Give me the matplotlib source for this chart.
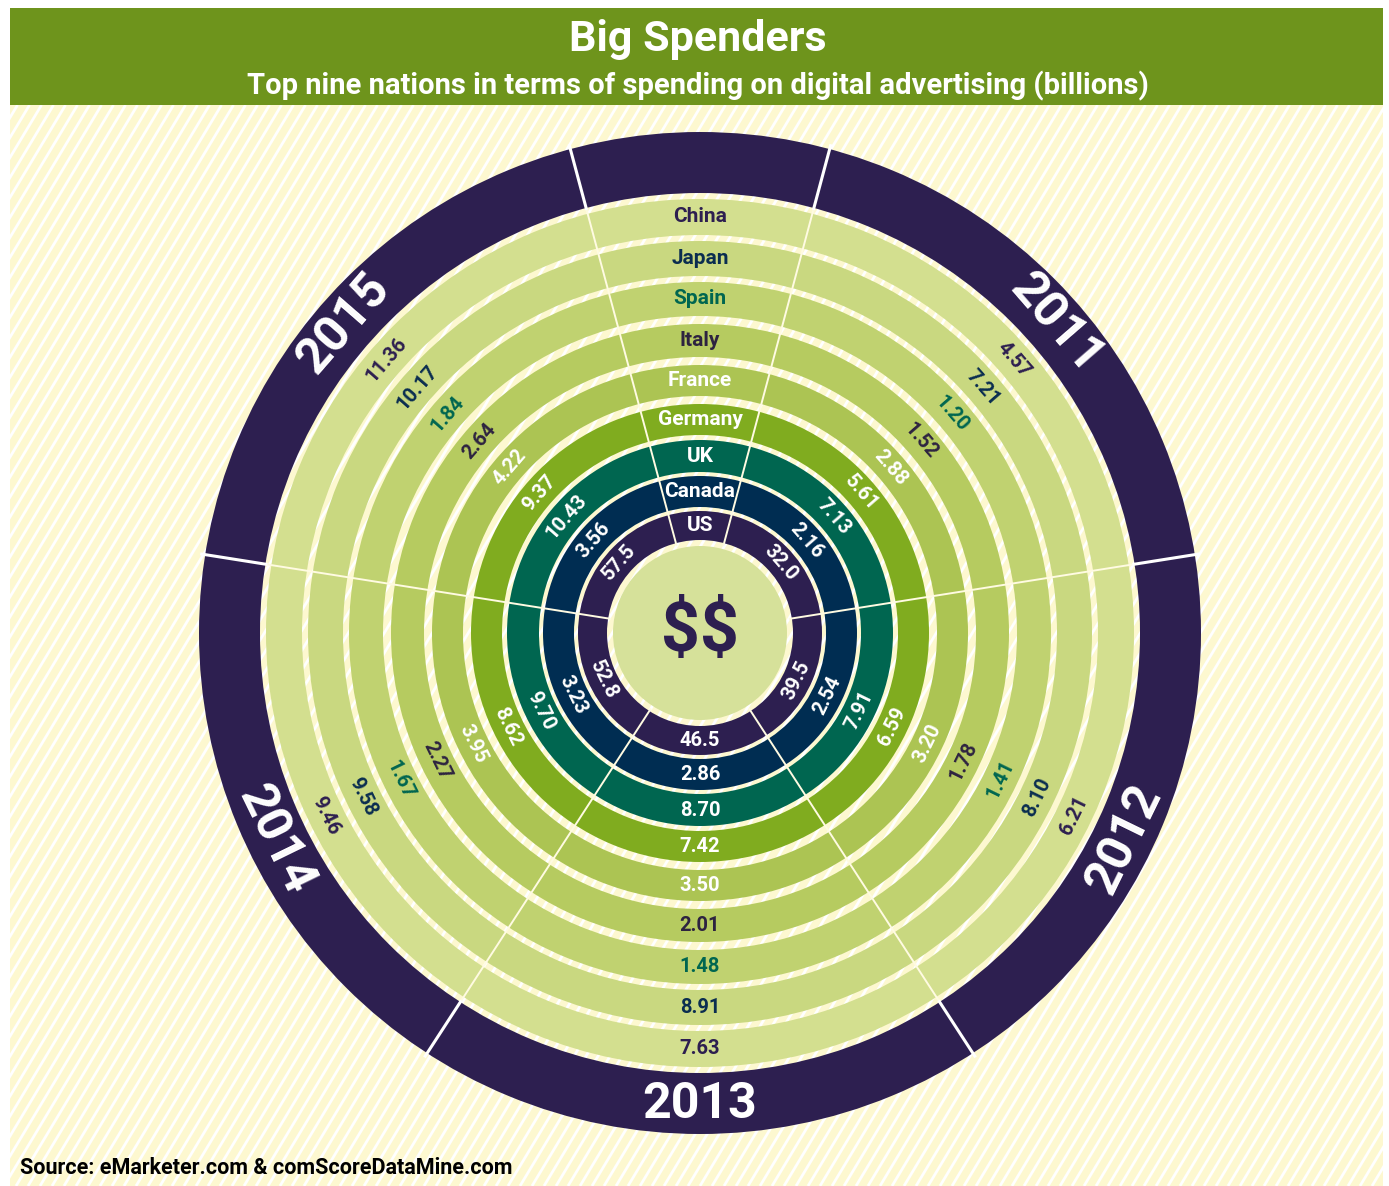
import numpy as np
import matplotlib
matplotlib.use("Agg")
import matplotlib.pyplot as plt
from matplotlib.patches import Rectangle
from matplotlib.collections import LineCollection

plt.rcParams['font.family'] = ['Roboto', 'DejaVu Sans']

# data
countries = ['China', 'Japan', 'Spain', 'Italy', 'France', 'Germany', 'UK', 'Canada', 'US']
years = ['2011', '2012', '2013', '2014', '2015']
spend_2011 = [4.57, 7.21, 1.20, 1.52, 2.88, 5.61, 7.13, 2.16, 32.0]
spend_2012 = [6.21, 8.10, 1.41, 1.78, 3.20, 6.59, 7.91, 2.54, 39.5]
spend_2013 = [7.63, 8.91, 1.48, 2.01, 3.50, 7.42, 8.70, 2.86, 46.5]
spend_2014 = [9.46, 9.58, 1.67, 2.27, 3.95, 8.62, 9.70, 3.23, 52.8]
spend_2015 = [11.36, 10.17, 1.84, 2.64, 4.22, 9.37, 10.43, 3.56, 57.5]
labels_2011 = ['4.57', '7.21', '1.20', '1.52', '2.88', '5.61', '7.13', '2.16', '32.0']
labels_2012 = ['6.21', '8.10', '1.41', '1.78', '3.20', '6.59', '7.91', '2.54', '39.5']
labels_2013 = ['7.63', '8.91', '1.48', '2.01', '3.50', '7.42', '8.70', '2.86', '46.5']
labels_2014 = ['9.46', '9.58', '1.67', '2.27', '3.95', '8.62', '9.70', '3.23', '52.8']
labels_2015 = ['11.36', '10.17', '1.84', '2.64', '4.22', '9.37', '10.43', '3.56', '57.5']
all_labels = [labels_2011, labels_2012, labels_2013, labels_2014, labels_2015]

# ring layout (outer -> inner), pixel radii
ring_in = [398, 357, 317, 276, 237, 198, 161, 126, 93]
ring_out = [434, 392, 351, 309, 268, 229, 193, 157, 122]
ring_colors = ['#d3df8f', '#c9d880', '#c0d270', '#b6cb60', '#acc453',
               '#80ac1f', '#006650', '#002d52', '#2d1f50']
text_colors = ['#2d1f50', '#0a2d50', '#006650', '#2d2340', 'white',
               'white', 'white', 'white', 'white']
year_angles = [49, 116, 180, 244, 311]
year_rot = [-49, 64, 0, -64, 49]
boundaries = [15, 81, 147, 213, 279, 345]

W, H = 1389, 1186
cx, cy = 700, H - 633
R = 520

fig = plt.figure(figsize=(W / 100, H / 100), dpi=100)
fig.patch.set_facecolor('white')

# background axes in pixel coords
bg = fig.add_axes([0, 0, 1, 1])
bg.set_xlim(0, W)
bg.set_ylim(0, H)
bg.axis('off')
back = Rectangle((10, 0), 1373, H - 105, facecolor='#fdf8d0', edgecolor='none')
bg.add_patch(back)
slope = np.tan(np.radians(59))
segs = [[(x0, 0), (x0 + (H - 105) / slope, H - 105)] for x0 in np.arange(-800, W, 12)]
stripes = LineCollection(segs, colors='white', linewidths=2.0)
bg.add_collection(stripes)
stripes.set_clip_path(back)
bg.add_patch(Rectangle((10, H - 105), 1373, 97, facecolor='#6e941c', edgecolor='none'))
bg.text(698, H - 39, 'Big Spenders', color='white', fontsize=31, fontweight='bold',
        ha='center', va='center')
bg.text(698, H - 86, 'Top nine nations in terms of spending on digital advertising (billions)',
        color='white', fontsize=21, fontweight='bold', ha='center', va='center')
bg.text(20, H - 1168, 'Source: eMarketer.com & comScoreDataMine.com', color='black',
        fontsize=15.5, fontweight='bold', ha='left', va='center')

# polar axes for the rings
ax = fig.add_axes([(cx - R) / W, (cy - R) / H, 2 * R / W, 2 * R / H], projection='polar')
ax.set_theta_zero_location('N')
ax.set_theta_direction(-1)
ax.set_ylim(0, R)
ax.axis('off')
ax.patch.set_alpha(0)

# outer dark ring and center
ax.bar(0, 501 - 440, width=2 * np.pi, bottom=440, color='#2d1f50', linewidth=0, align='edge')
ax.bar(0, 87, width=2 * np.pi, bottom=0, color='#d6e19a', linewidth=0, align='edge')
for r0, r1, col in zip(ring_in, ring_out, ring_colors):
    ax.bar(0, r1 - r0, width=2 * np.pi, bottom=r0, color=col, linewidth=0, align='edge')

# separators
for b in boundaries:
    t = np.radians(b)
    ax.plot([t, t], [90, 438], color='#fffbe2', lw=1.4, solid_capstyle='butt')
    ax.plot([t, t], [438, 506], color='white', lw=2.2, solid_capstyle='butt')

# country labels in header sector
for name, r0, r1, tc in zip(countries, ring_in, ring_out, text_colors):
    ax.text(0, (r0 + r1) / 2, name, color=tc, fontsize=15, fontweight='bold',
            ha='center', va='center')

# values and years
for yr, ang, rot, labs in zip(years, year_angles, year_rot, all_labels):
    t = np.radians(ang)
    for lab, r0, r1, tc in zip(labs, ring_in, ring_out, text_colors):
        ax.text(t, (r0 + r1) / 2, lab, color=tc, fontsize=14.5, fontweight='bold',
                ha='center', va='center', rotation=rot, rotation_mode='anchor')
    ax.text(t, 472, yr, color='white', fontsize=36, fontweight='bold',
            ha='center', va='center', rotation=rot, rotation_mode='anchor')

ax.text(0, 0, '$$', color='#2d1f50', fontsize=49, fontweight='bold',
        ha='center', va='center', parse_math=False)

fig.savefig('out.png', dpi=100, facecolor='white')
